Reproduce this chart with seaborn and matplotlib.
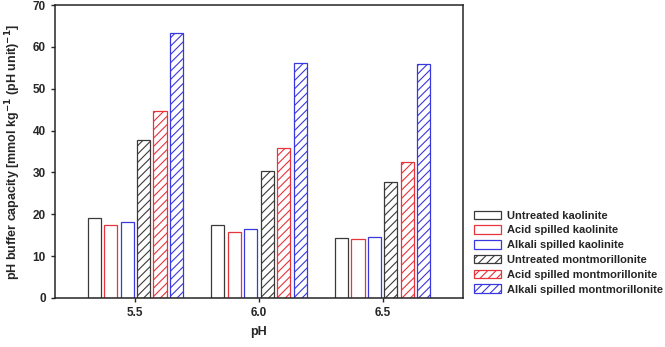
import matplotlib
matplotlib.use("Agg")
import matplotlib.pyplot as plt
import seaborn as sns
import pandas as pd
from matplotlib.patches import Patch

ph_levels = ["5.5", "6.0", "6.5"]
series = ["Untreated kaolinite", "Acid spilled kaolinite", "Alkali spilled kaolinite",
          "Untreated montmorillonite", "Acid spilled montmorillonite", "Alkali spilled montmorillonite"]
untreated_kao = [19.2, 17.4, 14.4]
acid_kao = [17.5, 15.8, 14.2]
alkali_kao = [18.2, 16.6, 14.5]
untreated_mont = [37.7, 30.3, 27.8]
acid_mont = [44.6, 35.9, 32.6]
alkali_mont = [63.3, 56.1, 55.8]

all_values = [untreated_kao, acid_kao, alkali_kao, untreated_mont, acid_mont, alkali_mont]
rows = []
for name, vals in zip(series, all_values):
    for ph, v in zip(ph_levels, vals):
        rows.append({"pH": ph, "series": name, "value": v})
df = pd.DataFrame(rows)

edge_colors = ["#3a3a3a", "#e8333a", "#3838e0", "#3a3a3a", "#e8333a", "#3838e0"]
hatches = ["", "", "", "////", "////", "////"]

sns.set_style("ticks")
plt.rcParams["font.family"] = ["Liberation Sans", "DejaVu Sans"]
plt.rcParams["hatch.linewidth"] = 0.8

fig = plt.figure(figsize=(6.65, 3.47), dpi=100)
ax = fig.add_axes([55 / 665, 1 - 298 / 347, 408 / 665, 293 / 347])

sns.barplot(data=df, x="pH", y="value", hue="series", hue_order=series, order=ph_levels,
            width=0.8, gap=0.2, ax=ax, legend=False, palette=["white"] * 6)

for container, ec, h in zip(ax.containers, edge_colors, hatches):
    for bar in container:
        bar.set_facecolor("white")
        bar.set_edgecolor(ec)
        bar.set_hatch(h)
        bar.set_linewidth(0.9)

ax.set_xlim(-0.65, 2.65)
ax.set_ylim(0, 70)
ax.set_yticks(range(0, 71, 10))
for side in ["top", "right", "left", "bottom"]:
    ax.spines[side].set_visible(True)
    ax.spines[side].set_linewidth(1.1)
ax.tick_params(axis="both", direction="out", length=3, width=1, labelsize=8.5)
for lab in ax.get_xticklabels() + ax.get_yticklabels():
    lab.set_fontweight("bold")
ax.set_xlabel("pH", fontsize=9, fontweight="bold", labelpad=5)
ax.set_ylabel("pH buffer capacity [mmol kg$^{\\mathbf{-1}}$ (pH unit)$^{\\mathbf{-1}}$]",
              fontsize=9, fontweight="bold", labelpad=7)

handles = [Patch(facecolor="white", edgecolor=ec, hatch=h, linewidth=0.9)
           for ec, h in zip(edge_colors, hatches)]
leg = fig.legend(handles, series, loc="lower left", bbox_to_anchor=(470 / 665, 1 - 299 / 347),
                 frameon=False, fontsize=8, handlelength=2.4, handleheight=0.8,
                 labelspacing=0.42, handletextpad=0.5, borderaxespad=0)
for t in leg.get_texts():
    t.set_fontweight("bold")

fig.savefig("out.png", dpi=100)
